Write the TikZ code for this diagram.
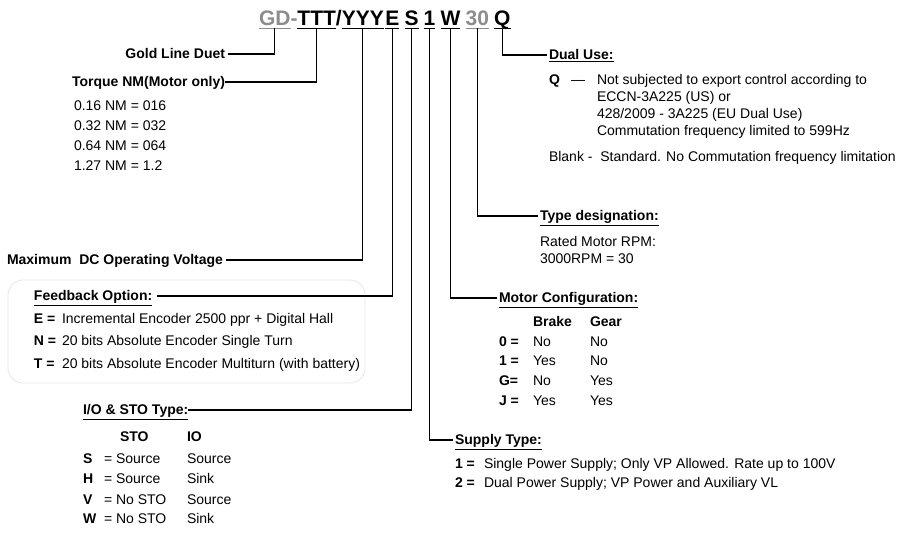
\documentclass[tikz,border=0pt]{standalone}
\usepackage{fontspec}
\setmainfont{Liberation Sans}
\definecolor{tgray}{RGB}{140,140,140}
\definecolor{boxgray}{RGB}{230,230,230}
\begin{document}
\begin{tikzpicture}[x=1pt,y=-1pt,
  txt/.style={inner sep=0pt, outer sep=0pt, anchor=base west, text height=10pt, text depth=0pt, font=\fontsize{14}{16}\selectfont},
  bt/.style={txt, font=\fontsize{14}{16}\selectfont\bfseries},
  lbl/.style={bt, outer xsep=2.5pt},
  ttl/.style={inner sep=0pt, outer sep=0pt, anchor=base west, text height=15pt, text depth=2.5pt, font=\fontsize{21}{24}\selectfont\bfseries},
  ul/.style={line width=1.5pt},
  conn/.style={draw=black, line width=1.2pt},
]
\useasboundingbox (0,0) rectangle (900,534);

% ---- title ----
\node[ttl, text=tgray] (gd) at (259,26) {GD};
\node[ttl, text=tgray] (dash) at (gd.base east) {-};
\node[ttl] (ttt) at (dash.base east) {TTT};
\node[ttl] (slash) at (ttt.base east) {/};
\node[ttl] (yyy) at (slash.base east) {YYY};
\node[ttl] (e) at ([xshift=1.5pt]yyy.base east) {E};
\node[ttl] (s) at ([xshift=5.2pt]e.base east) {S};
\node[ttl] (one) at ([xshift=5.2pt]s.base east) {1};
\node[ttl] (w) at ([xshift=5.2pt]one.base east) {W};
\node[ttl, text=tgray] (thirty) at ([xshift=5.2pt]w.base east) {30};
\node[ttl] (q) at ([xshift=5.2pt]thirty.base east) {Q};
\foreach \n/\c in {gd/tgray,ttt/black,yyy/black,e/black,s/black,one/black,w/black,thirty/tgray,q/black}
  \draw[ul, \c] (\n.south west) -- (\n.south east);

% ---- left side ----
\node[lbl, anchor=base east] (gold) at (227.5,59) {Gold Line Duet};
\node[bt, anchor=base east] (torque) at (225,87) {Torque NM(Motor only)};
\node[txt] (v1) at (74,111) {0.16 NM = 016};
\node[txt] (v2) at (74,131) {0.32 NM = 032};
\node[txt] (v3) at (74,151) {0.64 NM = 064};
\node[txt] (v4) at (74,171) {1.27 NM = 1.2};

\node[lbl, anchor=base east] (maxv) at (225.5,265) {Maximum\ \ DC Operating Voltage};

\draw[boxgray, line width=0.8pt, rounded corners=15pt] (8,280) rectangle (365,383);
\node[bt, outer xsep=5pt] (fb) at (29,301) {\underline{Feedback Option:}};
\node[bt] (fbE) at (34,324) {E =};
\node[txt] (fbEt) at (62,324) {Incremental Encoder 2500 ppr + Digital Hall};
\node[bt] (fbN) at (34,346) {N =};
\node[txt] (fbNt) at (62,346) {20 bits Absolute Encoder Single Turn};
\node[bt] (fbT) at (34,369) {T =};
\node[txt] (fbTt) at (62,369) {20 bits Absolute Encoder Multiturn (with battery)};

\node[bt] (io) at (83,415) {\underline{I/O \& STO Type:}};
\node[bt] (ioh1) at (120,442) {STO};
\node[bt] (ioh2) at (187,442) {IO};
\foreach \k/\yy/\a/\b/\nm in {S/464/Source/Source/r1, H/484/Source/Sink/r2, V/504/No STO/Source/r3, W/523/No STO/Sink/r4}{
  \node[bt] (io\nm l) at (83,\yy) {\k};
  \node[txt] (io\nm a) at (104,\yy) {= \a};
  \node[txt] (io\nm b) at (187,\yy) {\b};
}

% ---- right side ----
\node[lbl] (du) at (546.5,60) {\underline{Dual Use:}};
\node[bt] (duq) at (549,85) {Q};
\node[txt] (dudash) at (571,85) {—};
\node[txt] (du1) at (597,85) {Not subjected to export control according to};
\node[txt] (du2) at (597,102) {ECCN-3A225 (US) or};
\node[txt] (du3) at (597,119) {428/2009 - 3A225 (EU Dual Use)};
\node[txt] (du4) at (597,136) {Commutation frequency limited to 599Hz};
\node[txt] (du5) at (549,162) {Blank -\ \ Standard. No Commutation frequency limitation};

\node[lbl] (td) at (537.5,221) {\underline{Type designation:}};
\node[txt] (td1) at (540,247) {Rated Motor RPM:};
\node[txt] (td2) at (540,264) {3000RPM = 30};

\node[lbl] (mc) at (496.5,303) {\underline{Motor Configuration:}};
\node[bt] (mch1) at (533,327) {Brake};
\node[bt] (mch2) at (590,327) {Gear};
\foreach \k/\yy/\a/\b/\nm in {0 =/347/No/No/r1, 1 =/366/Yes/No/r2, G=/386/No/Yes/r3, J =/406/Yes/Yes/r4}{
  \node[bt] (mc\nm l) at (499,\yy) {\k};
  \node[txt] (mc\nm a) at (533,\yy) {\a};
  \node[txt] (mc\nm b) at (590,\yy) {\b};
}

\node[lbl] (st) at (452.5,445) {\underline{Supply Type:}};
\node[bt] (st1l) at (455,469) {1 =};
\node[txt] (st1) at (484,469) {Single Power Supply; Only VP Allowed. Rate up to 100V};
\node[bt] (st2l) at (455,488) {2 =};
\node[txt] (st2) at (484,488) {Dual Power Supply; VP Power and Auxiliary VL};

% ---- connectors ----
\draw[conn] (gd.south) |- (gold.east);
\draw[conn] (ttt.south) |- (torque.east);
\draw[conn] (yyy.south) |- (maxv.east);
\draw[conn] (e.south) |- (fb.east);
\draw[conn] (s.south) |- (io.east);
\draw[conn] (one.south) |- (st.west);
\draw[conn] (w.south) |- (mc.west);
\draw[conn] (thirty.south) |- (td.west);
\draw[conn] (q.south) |- (du.west);
\end{tikzpicture}
\end{document}
